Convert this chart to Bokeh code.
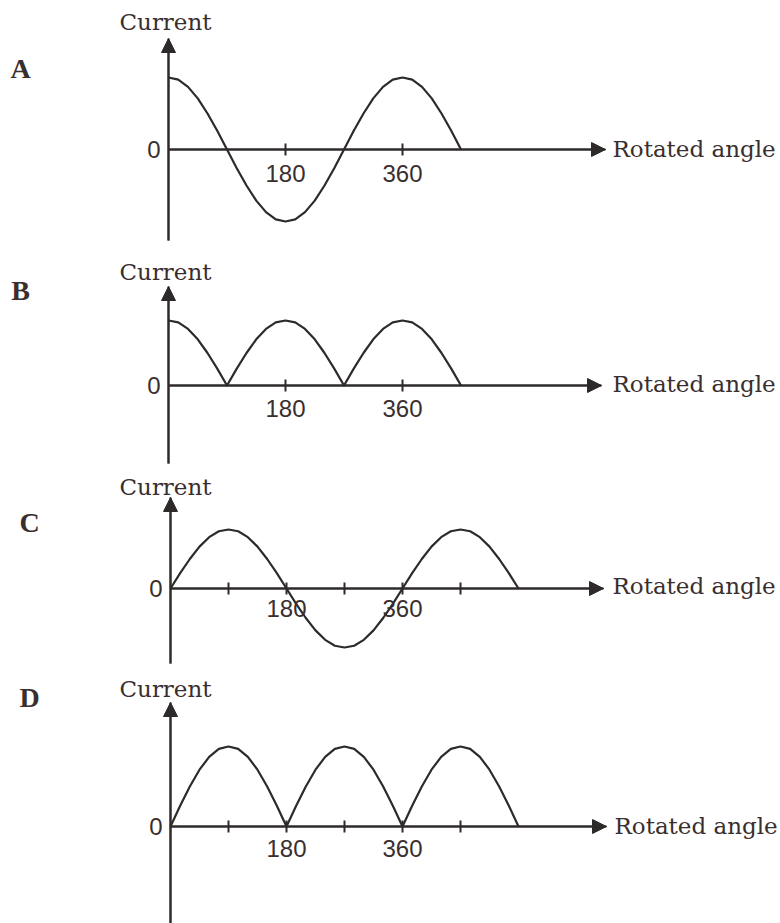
from bokeh.plotting import figure
from bokeh.models import Range1d, LinearAxis, FixedTicker, Arrow, NormalHead
from bokeh.layouts import column
from bokeh.embed import file_html
from bokeh.resources import INLINE
from bokeh.core.properties import value

# ---------------- data ----------------
panel_letters = ["A", "B", "C", "D"]
y_label = "Current"
x_label = "Rotated angle"

angles_ab = [0, 15, 30, 45, 60, 75, 90, 105, 120, 135, 150, 165, 180, 195, 210,
             225, 240, 255, 270, 285, 300, 315, 330, 345, 360, 375, 390, 405,
             420, 435, 450]
current_a = [1.00, 0.97, 0.87, 0.71, 0.50, 0.26, 0.00, -0.26, -0.50, -0.71,
             -0.87, -0.97, -1.00, -0.97, -0.87, -0.71, -0.50, -0.26, 0.00,
             0.26, 0.50, 0.71, 0.87, 0.97, 1.00, 0.97, 0.87, 0.71, 0.50, 0.26,
             0.00]
current_b = [1.00, 0.97, 0.87, 0.71, 0.50, 0.26, 0.00, 0.26, 0.50, 0.71,
             0.87, 0.97, 1.00, 0.97, 0.87, 0.71, 0.50, 0.26, 0.00,
             0.26, 0.50, 0.71, 0.87, 0.97, 1.00, 0.97, 0.87, 0.71, 0.50, 0.26,
             0.00]

angles_cd = [0, 15, 30, 45, 60, 75, 90, 105, 120, 135, 150, 165, 180, 195, 210,
             225, 240, 255, 270, 285, 300, 315, 330, 345, 360, 375, 390, 405,
             420, 435, 450, 465, 480, 495, 510, 525, 540]
current_c = [0.00, 0.26, 0.50, 0.71, 0.87, 0.97, 1.00, 0.97, 0.87, 0.71, 0.50,
             0.26, 0.00, -0.26, -0.50, -0.71, -0.87, -0.97, -1.00, -0.97,
             -0.87, -0.71, -0.50, -0.26, 0.00, 0.26, 0.50, 0.71, 0.87, 0.97,
             1.00, 0.97, 0.87, 0.71, 0.50, 0.26, 0.00]
current_d = [0.00, 0.26, 0.50, 0.71, 0.87, 0.97, 1.00, 0.97, 0.87, 0.71, 0.50,
             0.26, 0.00, 0.26, 0.50, 0.71, 0.87, 0.97, 1.00, 0.97,
             0.87, 0.71, 0.50, 0.26, 0.00, 0.26, 0.50, 0.71, 0.87, 0.97,
             1.00, 0.97, 0.87, 0.71, 0.50, 0.26, 0.00]

ticks_ab = [180, 360]
ticks_cd = [90, 180, 270, 360, 450]
tick_labels = {180: "180", 360: "360"}

series = [
    (angles_ab, current_a, ticks_ab),
    (angles_ab, current_b, ticks_ab),
    (angles_cd, current_c, ticks_cd),
    (angles_cd, current_d, ticks_cd),
]

# ---------------- layout / style (page pixel positions) ----------------
W = 780
LINE = "#2e2a2a"
TEXT = "#3a2e2e"
layout = [
    dict(top=0, h=252, ox=168, oy=149, ppd=117 / 180, ppa=72, ytop=38, ybot=240,
         xtip=605, cur_y=21, lab_x=612, lab_y=148, let_x=20, let_y=68, stand=9),
    dict(top=252, h=218, ox=168, oy=385, ppd=117 / 180, ppa=65, ytop=286, ybot=463,
         xtip=601, cur_y=271, lab_x=612, lab_y=383, let_x=20, let_y=290, stand=8),
    dict(top=470, h=202, ox=170, oy=588, ppd=58 / 90, ppa=59, ytop=497, ybot=663,
         xtip=603, cur_y=486, lab_x=612, lab_y=585, let_x=29, let_y=522, stand=5),
    dict(top=672, h=251, ox=170, oy=826, ppd=58 / 90, ppa=80, ytop=702, ybot=923,
         xtip=606, cur_y=688, lab_x=614, lab_y=825, let_x=29, let_y=697, stand=7),
]

figs = []
for letter, (xs, ys, ticks), L in zip(panel_letters, series, layout):
    ppd, ppa, ox, oy = L["ppd"], L["ppa"], L["ox"], L["oy"]
    dx = lambda px: (px - ox) / ppd
    dy = lambda py: (oy - py) / ppa
    p = figure(width=W, height=L["h"], output_backend="svg", toolbar_location=None,
               x_range=Range1d(dx(0), dx(W)),
               y_range=Range1d(dy(L["top"] + L["h"]), dy(L["top"])),
               x_axis_location=None, y_axis_location=None,
               min_border=0, min_border_left=0, min_border_right=0,
               min_border_top=0, min_border_bottom=0,
               outline_line_color=None, background_fill_color="white",
               border_fill_color="white")
    p.grid.visible = False

    # x axis through the origin
    xa = LinearAxis(fixed_location=0, ticker=FixedTicker(ticks=ticks),
                    bounds=(0, dx(L["xtip"])),
                    major_label_overrides={t: tick_labels.get(t, "") for t in ticks},
                    major_tick_in=6, major_tick_out=6, minor_tick_line_color=None,
                    major_label_standoff=L["stand"],
                    axis_line_color=LINE, axis_line_width=2,
                    major_tick_line_color=LINE, major_tick_line_width=2,
                    major_label_text_font="Liberation Sans",
                    major_label_text_font_size="24px",
                    major_label_text_color=TEXT)
    p.add_layout(xa, "below")

    # y axis through the origin
    ya = LinearAxis(fixed_location=0, ticker=FixedTicker(ticks=[0]),
                    bounds=(dy(L["ybot"]), dy(L["ytop"])),
                    major_tick_in=0, major_tick_out=0,
                    major_tick_line_color=None, minor_tick_line_color=None,
                    major_label_standoff=8,
                    axis_line_color=LINE, axis_line_width=2,
                    major_label_text_font="Liberation Sans",
                    major_label_text_font_size="24px",
                    major_label_text_color=TEXT)
    p.add_layout(ya, "left")

    # arrow heads
    p.add_layout(Arrow(end=NormalHead(size=14, fill_color=LINE, line_color=LINE),
                       x_start=0, y_start=0, x_end=dx(L["xtip"]), y_end=0,
                       line_color=LINE, line_width=2))
    p.add_layout(Arrow(end=NormalHead(size=14, fill_color=LINE, line_color=LINE),
                       x_start=0, y_start=dy(L["ybot"]), x_end=0, y_end=dy(L["ytop"]),
                       line_color=LINE, line_width=2))

    # curve
    p.line(xs, ys, line_color=LINE, line_width=2.2, line_join="round")

    # texts
    p.text(x=[dx(165)], y=[dy(L["cur_y"])], text=[y_label],
           text_font=value("DejaVu Serif"), text_font_size="23px",
           text_color=TEXT, text_align="center", text_baseline="middle")
    p.text(x=[dx(L["lab_x"])], y=[dy(L["lab_y"])], text=[x_label],
           text_font=value("DejaVu Serif"), text_font_size="23px",
           text_color=TEXT, text_align="left", text_baseline="middle")
    p.text(x=[dx(L["let_x"])], y=[dy(L["let_y"])], text=[letter],
           text_font=value("Liberation Serif"), text_font_size="28px",
           text_font_style="bold", text_color=TEXT,
           text_align="center", text_baseline="middle")
    figs.append(p)

page = column(*figs, spacing=0)
open("out.html", "w").write(file_html(page, INLINE))
